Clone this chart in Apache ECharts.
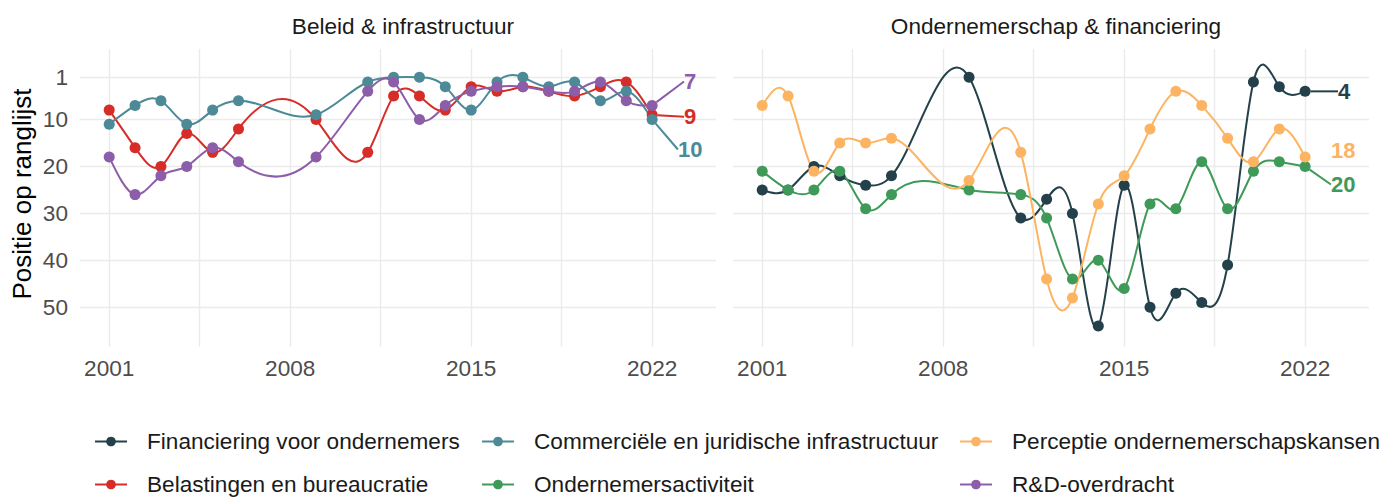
<!DOCTYPE html>
<html>
<head>
<meta charset="utf-8">
<script src="https://cdn.jsdelivr.net/npm/echarts@6/dist/echarts.min.js"></script>
<style>
  html, body { margin: 0; padding: 0; background: #ffffff; }
  #chart { width: 1381px; height: 498px; }
</style>
</head>
<body>
<div id="chart"></div>
<script>
// Ranking positions per year (lower is better); 2007, 2008 and 2010 were not ranked
const years = [2001, 2002, 2003, 2004, 2005, 2006, 2009, 2011, 2012, 2013, 2014, 2015, 2016, 2017, 2018, 2019, 2020, 2021, 2022];

const belastingen  = [8, 16, 20, 13, 17, 12, 10, 17, 5, 5, 8, 3, 4, 3, 4, 5, 3, 2, 9];
const commercieel  = [11, 7, 6, 11, 8, 6, 9, 2, 1, 1, 3, 8, 2, 1, 3, 2, 6, 4, 10];
const rdOverdracht = [18, 26, 22, 20, 16, 19, 18, 4, 2, 10, 7, 4, 3, 3, 4, 4, 2, 6, 7];
const financiering = [25, 25, 20, 22, 24, 22, 1, 31, 27, 30, 54, 24, 50, 47, 49, 41, 2, 3, 4];
const activiteit   = [21, 25, 25, 21, 29, 26, 25, 26, 31, 44, 40, 46, 28, 29, 19, 29, 21, 19, 20];
const perceptie    = [7, 5, 21, 15, 15, 14, 23, 17, 44, 48, 28, 22, 12, 4, 7, 14, 19, 12, 18];

const panelTitles = ['Beleid & infrastructuur', 'Ondernemerschap & financiering'];
const yearLabels = [2001, 2008, 2015, 2022];
const yearGridlines = [2001, 2004.5, 2008, 2011.5, 2015, 2018.5, 2022];
const rankLabels = [1, 10, 20, 30, 40, 50];

const yAxisTitle = 'Positie op ranglijst';

// Series in drawing order, with the panel each belongs to
const seriesList = [
  { name: 'Belastingen en bureaucratie', values: belastingen, panel: 0 },
  { name: 'Commerciële en juridische infrastructuur', values: commercieel, panel: 0 },
  { name: 'Financiering voor ondernemers', values: financiering, panel: 1 },
  { name: 'Ondernemersactiviteit', values: activiteit, panel: 1 },
  { name: 'Perceptie ondernemerschapskansen', values: perceptie, panel: 1 },
  { name: 'R&D-overdracht', values: rdOverdracht, panel: 0 }
];

const colors = {
  'Belastingen en bureaucratie': '#d62d28',
  'Commerciële en juridische infrastructuur': '#4b8a96',
  'Financiering voor ondernemers': '#24414b',
  'Ondernemersactiviteit': '#3f9a5a',
  'Perceptie ondernemerschapskansen': '#fcb462',
  'R&D-overdracht': '#8c5da8'
};

// Pixel offset of each end label from the last point, and whether a leader line is drawn
const endLabelShift = {
  'Belastingen en bureaucratie': [38, 2, true],
  'Commerciële en juridische infrastructuur': [38, 30, true],
  'Financiering voor ondernemers': [39, 0, true],
  'Ondernemersactiviteit': [38, 18, true],
  'Perceptie ondernemerschapskansen': [38, -7, false],
  'R&D-overdracht': [38, -24, true]
};

// Legend layout: name, left of key, row
const legendSlots = [
  ['Financiering voor ondernemers', 94, 0],
  ['Commerciële en juridische infrastructuur', 481, 0],
  ['Perceptie ondernemerschapskansen', 959, 0],
  ['Belastingen en bureaucratie', 94, 1],
  ['Ondernemersactiviteit', 481, 1],
  ['R&D-overdracht', 959, 1]
];
const legendRowTop = [430, 473];

const FONT = '"Liberation Sans", Arial, sans-serif';
const TEXT_SIZE = 22.6;
const panelLeft = [80, 733];
const panelTop = 49.1;
const panelWidth = 636;
const panelHeight = 297.6;

// Slopes of a natural cubic spline through (xs, ys); used as Bezier tangents
function splineSlopes(xs, ys) {
  const n = xs.length;
  const h = [], d = [];
  for (let i = 0; i < n - 1; i++) { h[i] = xs[i + 1] - xs[i]; d[i] = (ys[i + 1] - ys[i]) / h[i]; }
  const M = new Array(n).fill(0);
  const cp = [], rp = [];
  for (let i = 1; i < n - 1; i++) {
    const a = h[i - 1], b = 2 * (h[i - 1] + h[i]), c = h[i], r = 6 * (d[i] - d[i - 1]);
    const denom = b - (i > 1 ? a * cp[i - 1] : 0);
    cp[i] = c / denom;
    rp[i] = (r - (i > 1 ? a * rp[i - 1] : 0)) / denom;
  }
  for (let i = n - 2; i >= 1; i--) M[i] = rp[i] - cp[i] * (i < n - 2 ? M[i + 1] : 0);
  const m = [];
  for (let i = 0; i < n - 1; i++) m[i] = d[i] - h[i] * (2 * M[i] + M[i + 1]) / 6;
  m[n - 1] = d[n - 2] + h[n - 2] * (M[n - 2] + 2 * M[n - 1]) / 6;
  return m;
}

const chart = echarts.init(document.getElementById('chart'), null, { renderer: 'svg' });

const grids = panelLeft.map(l => ({ left: l, top: panelTop, width: panelWidth, height: panelHeight, containLabel: false }));

const xAxes = panelLeft.map((_, i) => ({
  type: 'value',
  gridIndex: i,
  min: 1999.87,
  max: 2024.47,
  axisLine: { show: false },
  axisTick: { show: false, customValues: yearGridlines },
  axisLabel: {
    customValues: yearLabels,
    formatter: v => String(v),
    color: '#4d4d4d',
    fontSize: TEXT_SIZE,
    fontFamily: FONT,
    margin: 10
  },
  splitLine: { show: true, lineStyle: { color: '#ebebeb', width: 1.4 } }
}));

const yAxes = panelLeft.map((_, i) => ({
  type: 'value',
  gridIndex: i,
  inverse: true,
  min: -5,
  max: 58.4,
  axisLine: { show: false },
  axisTick: { show: false, customValues: rankLabels },
  axisLabel: {
    show: i === 0,
    customValues: rankLabels,
    color: '#4d4d4d',
    fontSize: TEXT_SIZE,
    fontFamily: FONT,
    margin: 12
  },
  splitLine: { show: true, lineStyle: { color: '#ebebeb', width: 1.4 } }
}));

// Smooth curves: one cubic Bezier segment per pair of neighbouring years
const curveSeries = seriesList.map(s => {
  const c = colors[s.name];
  const slopes = splineSlopes(years, s.values);
  return {
    type: 'custom',
    xAxisIndex: s.panel,
    yAxisIndex: s.panel,
    z: 2,
    silent: true,
    encode: { x: 0, y: 1 },
    data: years.map((y, i) => [y, s.values[i]]),
    renderItem: (params, api) => {
      const i = params.dataIndex;
      if (i >= years.length - 1) return null;
      const x0 = years[i], y0 = s.values[i], x1 = years[i + 1], y1 = s.values[i + 1];
      const h = x1 - x0;
      const p0 = api.coord([x0, y0]);
      const p1 = api.coord([x1, y1]);
      const c0 = api.coord([x0 + h / 3, y0 + slopes[i] * h / 3]);
      const c1 = api.coord([x1 - h / 3, y1 - slopes[i + 1] * h / 3]);
      return {
        type: 'bezierCurve',
        shape: { x1: p0[0], y1: p0[1], cpx1: c0[0], cpy1: c0[1], cpx2: c1[0], cpy2: c1[1], x2: p1[0], y2: p1[1] },
        style: { stroke: c, lineWidth: 2, fill: 'none' }
      };
    }
  };
});

// Points and end labels
const pointSeries = seriesList.map(s => {
  const c = colors[s.name];
  const last = years.length - 1;
  const shift = endLabelShift[s.name];
  return {
    name: s.name,
    type: 'line',
    xAxisIndex: s.panel,
    yAxisIndex: s.panel,
    z: 3,
    symbol: 'circle',
    symbolSize: 11,
    showSymbol: true,
    lineStyle: { color: c, width: 0 },
    itemStyle: { color: c },
    emphasis: { disabled: true },
    label: {
      show: false,
      position: 'inside',
      color: c,
      fontSize: 22,
      fontWeight: 'bold',
      fontFamily: FONT
    },
    labelLayout: { dx: shift[0], dy: shift[1] },
    labelLine: { show: shift[2], lineStyle: { color: c, width: 2 } },
    data: years.map((y, i) => {
      const item = { value: [y, s.values[i]] };
      if (i === last) item.label = { show: true, formatter: String(s.values[i]) };
      return item;
    })
  };
});

const legends = legendSlots.map(([name, left, row]) => ({
  data: [name],
  left: left,
  top: legendRowTop[row],
  padding: 0,
  orient: 'horizontal',
  itemWidth: 32,
  itemHeight: 12,
  selectedMode: false,
  lineStyle: { width: 2, opacity: 1 },
  textStyle: { color: '#1a1a1a', fontSize: TEXT_SIZE, fontFamily: FONT, padding: [0, 0, 0, 15] }
}));

const titles = panelTitles.map((t, i) => ({
  text: t,
  left: panelLeft[i] + panelWidth / 2,
  top: 9.5,
  textAlign: 'center',
  textStyle: { color: '#1a1a1a', fontSize: TEXT_SIZE, fontWeight: 'normal', fontFamily: FONT }
}));

chart.setOption({
  animation: false,
  backgroundColor: '#ffffff',
  title: titles,
  grid: grids,
  xAxis: xAxes,
  yAxis: yAxes,
  legend: legends,
  series: curveSeries.concat(pointSeries),
  graphic: [{
    type: 'text',
    x: 22,
    y: 194,
    rotation: Math.PI / 2,
    style: {
      text: yAxisTitle,
      fill: '#000000',
      font: '26px ' + FONT,
      textAlign: 'center',
      textVerticalAlign: 'middle'
    }
  }]
});
</script>
</body>
</html>
